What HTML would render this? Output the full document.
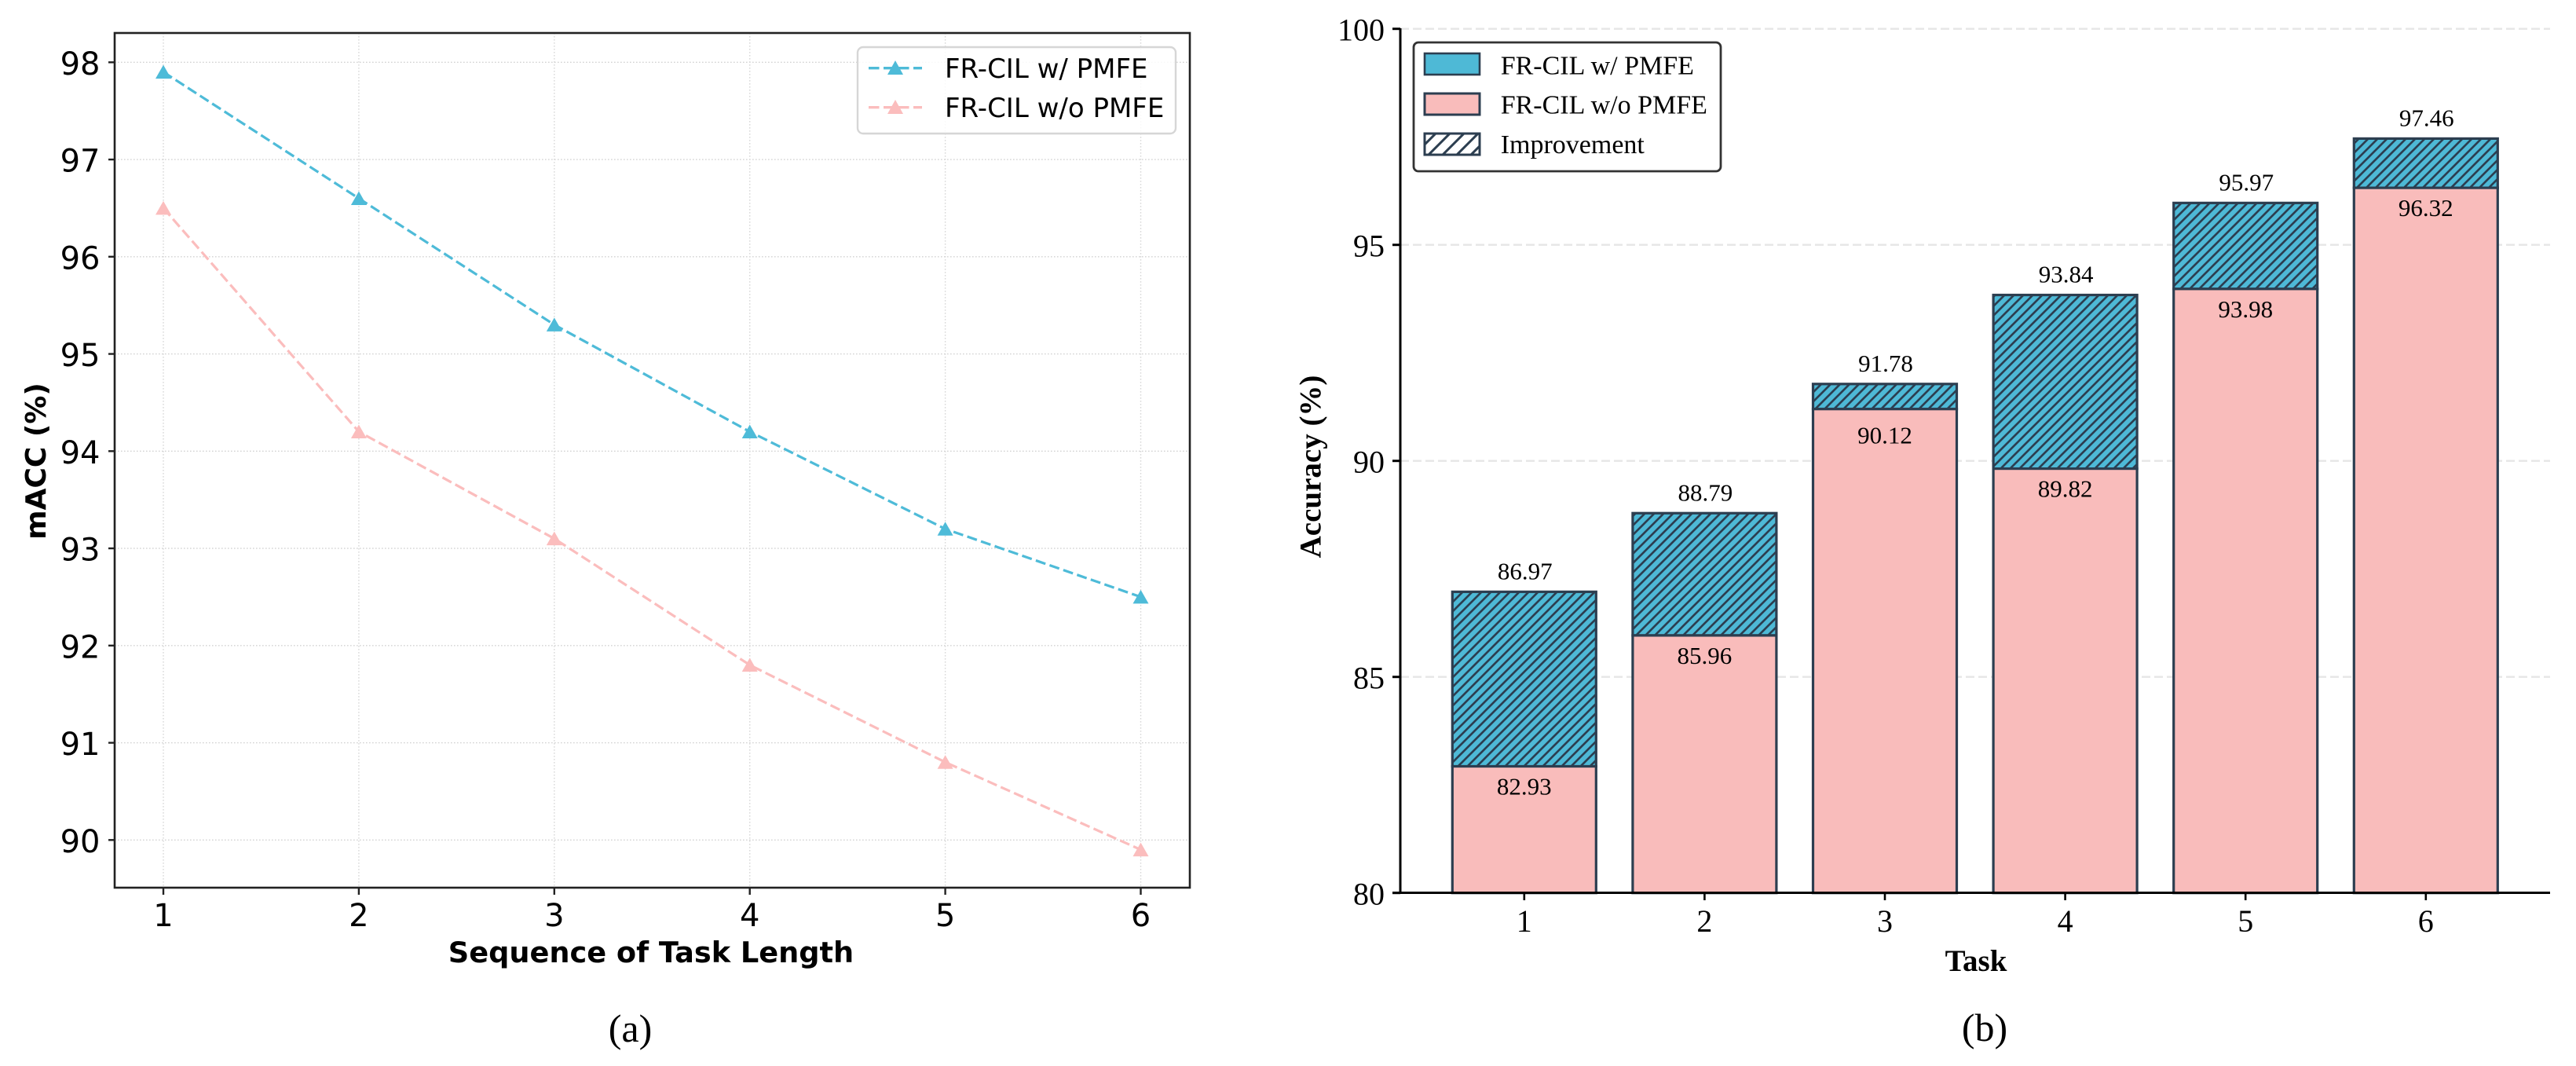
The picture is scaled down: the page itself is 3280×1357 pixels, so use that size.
<!DOCTYPE html>
<html lang="en">
<head>
<meta charset="utf-8">
<title>FR-CIL w/ and w/o PMFE comparison</title>
<style>
html,body{margin:0;padding:0;background:#fff;}
svg{display:block;}
.dj{font-family:"DejaVu Sans",sans-serif;}
.se{font-family:"Liberation Serif",serif;}
</style>
</head>
<body>
<svg id="fig" xmlns="http://www.w3.org/2000/svg" width="3280" height="1357" viewBox="0 0 3280 1357">
  <defs>
    <pattern id="hatch-bar" patternUnits="userSpaceOnUse" width="12" height="12">
      <rect width="12" height="12" fill="#4EB9D6"/>
      <path d="M-3,3 L3,-3 M0,12 L12,0 M9,15 L15,9" stroke="#2C3E50" stroke-width="2.7"/>
    </pattern>
    <pattern id="hatch-legend" patternUnits="userSpaceOnUse" width="18" height="18">
      <rect width="18" height="18" fill="#fff"/>
      <path d="M-3,3 L3,-3 M0,18 L18,0 M15,21 L21,15" stroke="#2C3E50" stroke-width="3"/>
    </pattern>
  </defs>
  <rect width="3280" height="1357" fill="#fff"/>

  <g id="left-chart">
    <g id="l-grid"></g>
    <g id="l-series"></g>
    <rect x="146" y="42" width="1369" height="1088" fill="none" stroke="#222" stroke-width="2.6"/>
    <g id="l-ticks"></g>
    <text class="dj" font-weight="700" font-size="36" text-anchor="middle" transform="translate(58,587) rotate(-90)">mACC (%)</text>
    <text class="dj" font-weight="700" font-size="36.7" text-anchor="middle" x="829" y="1225">Sequence of Task Length</text>
    <g>
      <rect x="1092" y="60" width="405" height="110" rx="7" fill="#fff" fill-opacity="0.85" stroke="#d6d6d6" stroke-width="2.4"/>
      <g>
        <line x1="1106" y1="86.7" x2="1174" y2="86.7" stroke="#4EBBD8" stroke-width="3.4" stroke-dasharray="13.5 5.5"/>
        <polygon points="1140,77 1150,95 1130,95" fill="#4EBBD8"/>
        <text class="dj" font-size="34" x="1203" y="99">FR-CIL w/ PMFE</text>
      </g>
      <g>
        <line x1="1106" y1="136.7" x2="1174" y2="136.7" stroke="#FBBDBD" stroke-width="3.4" stroke-dasharray="13.5 5.5"/>
        <polygon points="1140,127 1150,145 1130,145" fill="#FBBDBD"/>
        <text class="dj" font-size="34" x="1203" y="149">FR-CIL w/o PMFE</text>
      </g>
    </g>
    <text class="se" font-size="50" text-anchor="middle" x="802.5" y="1326">(a)</text>
  </g>

  <g id="right-chart">
    <g id="r-grid"></g>
    <g id="r-bars"></g>
    <line x1="1783" y1="36" x2="1783" y2="1138" stroke="#000" stroke-width="3"/>
    <line x1="1773" y1="1136.5" x2="3247" y2="1136.5" stroke="#000" stroke-width="3"/>
    <g id="r-ticks"></g>
    <text class="se" font-weight="700" font-size="39" text-anchor="middle" transform="translate(1681.7,594) rotate(-90)">Accuracy (%)</text>
    <text class="se" font-weight="700" font-size="39" text-anchor="middle" x="2516" y="1236">Task</text>
    <g>
      <rect x="1800" y="54" width="391" height="164" rx="6" fill="#fff" stroke="#333" stroke-width="2.8"/>
      <g>
        <rect x="1814" y="68" width="70" height="27" fill="#4EB9D6" stroke="#2C3E50" stroke-width="2.6"/>
        <text class="se" font-size="34" x="1910.7" y="94.3">FR-CIL w/ PMFE</text>
      </g>
      <g>
        <rect x="1814" y="119" width="70" height="27" fill="#F9BCBB" stroke="#2C3E50" stroke-width="3"/>
        <text class="se" font-size="34" x="1910.7" y="144.3">FR-CIL w/o PMFE</text>
      </g>
      <g>
        <rect x="1814" y="170" width="70" height="27" fill="url(#hatch-legend)" stroke="#2C3E50" stroke-width="3"/>
        <text class="se" font-size="34" x="1910.7" y="195">Improvement</text>
      </g>
    </g>
    <text class="se" font-size="50" text-anchor="middle" x="2527" y="1325">(b)</text>
  </g>
</svg>
<script>
const lineCategories = [1, 2, 3, 4, 5, 6];
const lineWithPmfe = [97.9, 96.6, 95.3, 94.2, 93.2, 92.5];
const lineWithoutPmfe = [96.5, 94.2, 93.1, 91.8, 90.8, 89.9];
const lineYTicks = [90, 91, 92, 93, 94, 95, 96, 97, 98];

const barCategories = [1, 2, 3, 4, 5, 6];
const barWithPmfe = [86.97, 88.79, 91.78, 93.84, 95.97, 97.46];
const barWithoutPmfe = [82.93, 85.96, 91.2, 89.82, 93.98, 96.32];
const barWithPmfeLabels = ['86.97', '88.79', '91.78', '93.84', '95.97', '97.46'];
const barWithoutPmfeLabels = ['82.93', '85.96', '90.12', '89.82', '93.98', '96.32'];
const barYTicks = [80, 85, 90, 95, 100];

const NS = 'http://www.w3.org/2000/svg';
function mk(tag, attrs, parent) {
  const el = document.createElementNS(NS, tag);
  for (const k in attrs) el.setAttribute(k, attrs[k]);
  parent.appendChild(el);
  return el;
}
const xL = v => 208 + (v - 1) * 248.9;
const yL = v => 79.3 + (98 - v) * 123.75;
const xR = v => 1940.8 + (v - 1) * 229.6;
const yR = v => 36.7 + (100 - v) * 55;
const BAR_W = 183;

const lGrid = document.getElementById('l-grid');
const lSeries = document.getElementById('l-series');
const lTicks = document.getElementById('l-ticks');

lineYTicks.forEach(v => {
  const g = mk('line', {x1: 146, x2: 1515, y1: yL(v), y2: yL(v), stroke: '#d2d2d2', 'stroke-width': 1.4, 'stroke-dasharray': '1.6 2.4'}, lGrid);
  
  
  const t = mk('line', {x1: 138, x2: 146, y1: yL(v), y2: yL(v), stroke: '#222', 'stroke-width': 2.4}, lTicks);
  
  
  const l = mk('text', {x: 127.5, y: yL(v) + 15.5, 'text-anchor': 'end', 'font-size': 40, 'class': 'dj'}, lTicks);
  l.textContent = v;
  
  
});
lineCategories.forEach(v => {
  const g = mk('line', {x1: xL(v), x2: xL(v), y1: 42, y2: 1130, stroke: '#d8d8d8', 'stroke-width': 1.4, 'stroke-dasharray': '1.6 2.4'}, lGrid);
  
  
  const t = mk('line', {x1: xL(v), x2: xL(v), y1: 1130, y2: 1139, stroke: '#222', 'stroke-width': 2.4}, lTicks);
  
  
  const l = mk('text', {x: xL(v), y: 1179, 'text-anchor': 'middle', 'font-size': 40, 'class': 'dj'}, lTicks);
  l.textContent = v;
  
  
});

function drawLine(values, color, name) {
  const pts = values.map((v, i) => xL(lineCategories[i]) + ',' + yL(v)).join(' ');
  const line = mk('polyline', {points: pts, fill: 'none', stroke: color, 'stroke-width': 3.2, 'stroke-dasharray': '13 5.5'}, lSeries);
  
  
  values.forEach((v, i) => {
    const x = xL(lineCategories[i]), y = yL(v);
    const m = mk('polygon', {points: `${x},${y - 9} ${x + 10},${y + 8.5} ${x - 10},${y + 8.5}`, fill: color}, lSeries);
    
    
  });
}
drawLine(lineWithPmfe, '#4EBBD8', 'with-pmfe');
drawLine(lineWithoutPmfe, '#FBBDBD', 'without-pmfe');

const rGrid = document.getElementById('r-grid');
const rBars = document.getElementById('r-bars');
const rTicks = document.getElementById('r-ticks');

barYTicks.forEach(v => {
  if (v > 80) {
    const g = mk('line', {x1: 1783, x2: 3247, y1: yR(v), y2: yR(v), stroke: '#e6e6e6', 'stroke-width': 2.4, 'stroke-dasharray': '11 5'}, rGrid);
    
    
  }
  const t = mk('line', {x1: 1773, x2: 1783, y1: yR(v), y2: yR(v), stroke: '#000', 'stroke-width': 3}, rTicks);
  
  
  const l = mk('text', {x: 1763, y: yR(v) + 15, 'text-anchor': 'end', 'font-size': 40, 'class': 'se'}, rTicks);
  l.textContent = v;
  
  
});

barCategories.forEach((c, i) => {
  const x = xR(c) - BAR_W / 2;
  const base = yR(80), topPink = yR(barWithoutPmfe[i]), topBlue = yR(barWithPmfe[i]);
  const blue = mk('rect', {x: x, y: topBlue, width: BAR_W, height: topPink - topBlue, fill: 'url(#hatch-bar)', stroke: '#2C3E50', 'stroke-width': 3.2}, rBars);
  
  
  const pink = mk('rect', {x: x, y: topPink, width: BAR_W, height: base - topPink, fill: '#F9BCBB', stroke: '#2C3E50', 'stroke-width': 3.2}, rBars);
  
  
  const a = mk('text', {x: xR(c) + 1, y: topBlue - 16, 'text-anchor': 'middle', 'font-size': 31, 'class': 'se'}, rBars);
  a.textContent = barWithPmfeLabels[i];
  
  
  const printedDiffers = Math.abs(parseFloat(barWithoutPmfeLabels[i]) - barWithoutPmfe[i]) > 0.5;
  const b = mk('text', {x: xR(c), y: topPink + (printedDiffers ? 44 : 36), 'text-anchor': 'middle', 'font-size': 31, 'class': 'se'}, rBars);
  b.textContent = barWithoutPmfeLabels[i];
  
  
  const t = mk('line', {x1: xR(c), x2: xR(c), y1: 1136, y2: 1146, stroke: '#000', 'stroke-width': 2.6}, rTicks);
  
  
  const l = mk('text', {x: xR(c), y: 1186, 'text-anchor': 'middle', 'font-size': 40, 'class': 'se'}, rTicks);
  l.textContent = c;
  
  
});
</script>
</body>
</html>
